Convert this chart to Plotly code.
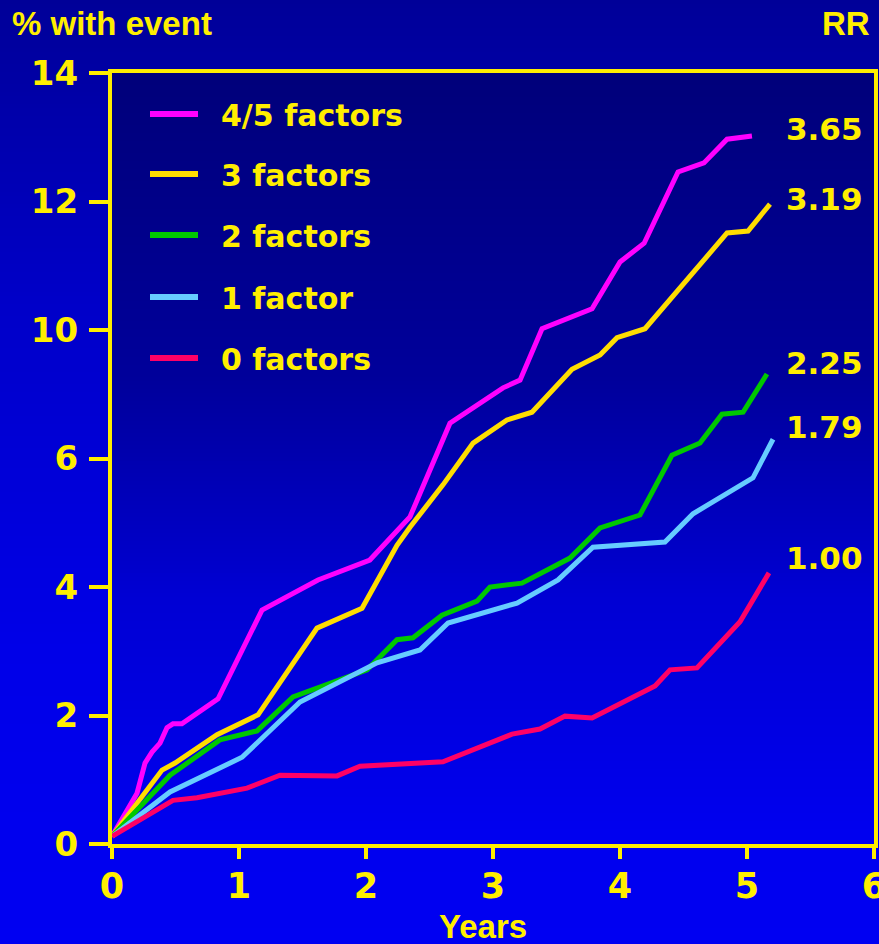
import plotly.graph_objects as go

# ---- data: cumulative % with event by number of risk factors ----
series_names = ["4/5 factors", "3 factors", "2 factors", "1 factor", "0 factors"]
series_colors = ["#ff00ff", "#ffdd00", "#00c800", "#66ccff", "#ff0066"]
rr_labels = ["3.65", "3.19", "2.25", "1.79", "1.00"]

years_45 = [0, 0.197, 0.26, 0.315, 0.378, 0.433, 0.48, 0.55, 0.835, 1.181, 1.622, 2.03,
            2.346, 2.661, 3.079, 3.213, 3.386, 3.78, 4.0, 4.19, 4.457, 4.661, 4.843, 5.039]
pct_45 = [0.12, 0.79, 1.26, 1.43, 1.57, 1.81, 1.87, 1.87, 2.26, 3.64, 4.11, 4.42,
          5.09, 7.1, 8.2, 8.44, 10.02, 10.33, 11.06, 11.35, 12.46, 12.6, 12.97, 13.02]

years_3 = [0, 0.394, 0.496, 0.827, 1.15, 1.614, 1.969, 2.244, 2.346, 2.606, 2.843, 3.11,
           3.307, 3.622, 3.843, 3.976, 4.197, 4.843, 5.008, 5.181]
pct_3 = [0.12, 1.15, 1.26, 1.70, 2.01, 3.36, 3.67, 4.65, 4.93, 5.59, 6.48, 7.2,
         7.44, 8.78, 9.22, 9.76, 10.02, 11.51, 11.54, 11.96]

years_2 = [0, 0.457, 0.85, 1.142, 1.425, 2.008, 2.244, 2.37, 2.598, 2.874, 2.976, 3.228,
           3.606, 3.843, 4.157, 4.409, 4.63, 4.803, 4.969, 5.157]
pct_2 = [0.12, 1.07, 1.62, 1.76, 2.29, 2.71, 3.18, 3.21, 3.56, 3.78, 4.0, 4.06,
         4.45, 4.92, 5.12, 6.1, 6.48, 7.38, 7.44, 8.63]

years_1 = [0, 0.457, 1.024, 1.48, 2.087, 2.425, 2.646, 3.189, 3.512, 3.787, 4.354, 4.575,
           5.047, 5.205]
pct_1 = [0.12, 0.81, 1.35, 2.21, 2.82, 3.02, 3.44, 3.75, 4.11, 4.62, 4.70, 5.14,
         5.70, 6.6]

years_0 = [0, 0.48, 0.669, 1.063, 1.323, 1.772, 1.953, 2.606, 3.15, 3.37, 3.567, 3.78,
           4.276, 4.394, 4.606, 4.945, 5.173]
pct_0 = [0.12, 0.68, 0.72, 0.87, 1.07, 1.06, 1.21, 1.28, 1.71, 1.79, 1.99, 1.96,
         2.46, 2.71, 2.74, 3.46, 4.22]

x_ticks = [0, 1, 2, 3, 4, 5, 6]
y_tick_labels = [0, 2, 4, 6, 10, 12, 14]

all_years = [years_45, years_3, years_2, years_1, years_0]
all_pct = [pct_45, pct_3, pct_2, pct_1, pct_0]

# ---- geometry of the canvas ----
W, H = 879, 944
L, R, T, B = 112, 874, 73, 844          # plot-area edges in pixels
YELLOW = "#ffee00"
FONT = "DejaVu Sans"
TITLE_FONT = "Liberation Sans"


def axis_pos(v):
    """The y scale steps 0-2-4-6 then 10-12-14 at equal spacing."""
    if v <= 6:
        return v
    if v <= 10:
        return 6 + (v - 6) / 2
    return v - 2


def px(xpix):
    return (xpix - L) / (R - L)


def py(ypix):
    return (B - ypix) / (B - T)


def ramp(stops, y):
    for (y0, c0), (y1, c1) in zip(stops, stops[1:]):
        if y0 <= y <= y1:
            return c0 + (c1 - c0) * (y - y0) / (y1 - y0)
    return stops[0][1] if y < stops[0][0] else stops[-1][1]


shapes = []
# vertical blue gradient behind the whole slide
paper_stops = [(0, 152), (300, 200), (650, 232), (944, 242)]
step = 4
for y0 in range(0, H, step):
    b = int(round(ramp(paper_stops, y0 + step / 2)))
    shapes.append(dict(type="rect", xref="paper", yref="paper", layer="below",
                       x0=px(-5), x1=px(W + 5), y0=py(y0 + step + 1), y1=py(y0),
                       fillcolor=f"rgb(0,0,{b})", line_width=0))
# darker gradient inside the plotting frame
plot_stops = [(T, 122), (380, 155), (600, 212), (B, 240)]
for y0 in range(T, B, step):
    b = int(round(ramp(plot_stops, y0 + step / 2)))
    shapes.append(dict(type="rect", xref="paper", yref="paper", layer="below",
                       x0=0, x1=1, y0=max(0, py(min(B, y0 + step + 1))), y1=py(y0),
                       fillcolor=f"rgb(0,0,{b})", line_width=0))

fig = go.Figure()
for name, color, xs, ys in zip(series_names, series_colors, all_years, all_pct):
    fig.add_trace(go.Scatter(
        x=xs, y=[axis_pos(v) for v in ys], mode="lines", name=name,
        line=dict(color=color, width=5), showlegend=False,
        hovertemplate="%{x:.2f} yr<extra>" + name + "</extra>",
    ))

annotations = []
# key: coloured strokes with labels
key_rows = [114, 174, 235, 297, 358]
for name, color, yrow in zip(series_names, series_colors, key_rows):
    shapes.append(dict(type="line", xref="paper", yref="paper", layer="above",
                       x0=px(150), x1=px(198), y0=py(yrow), y1=py(yrow),
                       line=dict(color=color, width=6)))
    annotations.append(dict(xref="paper", yref="paper", x=px(219), y=py(yrow + 1),
                            xanchor="left", yanchor="middle", showarrow=False,
                            text=name, font=dict(family=FONT, size=30, color=YELLOW,
                                                 weight="bold")))

# relative-risk values at the line ends
rr_rows = [128, 198, 362, 426, 557]
for lab, yrow in zip(rr_labels, rr_rows):
    annotations.append(dict(xref="paper", yref="paper", x=px(784), y=py(yrow + 1),
                            xanchor="left", yanchor="middle", showarrow=False,
                            text=lab, font=dict(family=FONT, size=31, color=YELLOW,
                                                weight="bold")))

annotations += [
    dict(xref="paper", yref="paper", x=px(10), y=py(23), xanchor="left", yanchor="middle",
         showarrow=False, text="% with event",
         font=dict(family=TITLE_FONT, size=33, color=YELLOW, weight="bold")),
    dict(xref="paper", yref="paper", x=px(872), y=py(23), xanchor="right", yanchor="middle",
         showarrow=False, text="RR",
         font=dict(family=TITLE_FONT, size=33, color=YELLOW, weight="bold")),
    dict(xref="paper", yref="paper", x=px(483), y=py(926), xanchor="center", yanchor="middle",
         showarrow=False, text="Years",
         font=dict(family=TITLE_FONT, size=33, color=YELLOW, weight="bold")),
]

fig.update_layout(
    width=W, height=H,
    margin=dict(l=L, r=W - R, t=T, b=H - B, pad=0),
    paper_bgcolor="rgba(0,0,0,0)", plot_bgcolor="rgba(0,0,0,0)",
    shapes=shapes, annotations=annotations, showlegend=False,
    font=dict(family=FONT, color=YELLOW),
)
fig.update_xaxes(
    range=[0, 6], tickvals=x_ticks, ticktext=[str(t) for t in x_ticks],
    showgrid=False, zeroline=False, showline=True, mirror=True, automargin=False,
    linecolor=YELLOW, linewidth=4, ticks="outside", ticklen=11, tickwidth=4,
    tickcolor=YELLOW, ticklabelstandoff=-3, ticklabeloverflow="allow",
    tickfont=dict(family=FONT, size=35, color=YELLOW, weight="bold"),
)
fig.update_yaxes(
    range=[0, 12], tickvals=[axis_pos(v) for v in y_tick_labels],
    ticktext=[str(v) for v in y_tick_labels],
    showgrid=False, zeroline=False, showline=True, mirror=True, automargin=False,
    linecolor=YELLOW, linewidth=4, ticks="outside", ticklen=19, tickwidth=4,
    tickcolor=YELLOW, ticklabelstandoff=4, ticklabeloverflow="allow",
    tickfont=dict(family=FONT, size=34, color=YELLOW, weight="bold"),
)

fig.write_html("out.html")
